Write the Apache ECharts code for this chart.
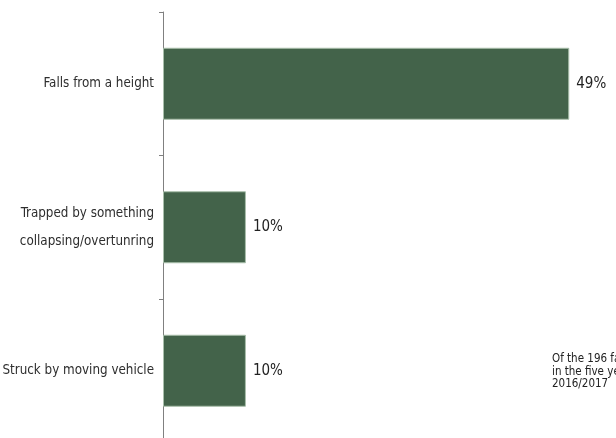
<!DOCTYPE html>
<html>
<head>
<meta charset="utf-8">
<script src="https://cdn.jsdelivr.net/npm/echarts@6/dist/echarts.min.js"></script>
<style>html,body{margin:0;padding:0;background:#fff;}#c{width:616px;height:438px;}</style>
</head>
<body>
<div id="c"></div>
<script>
var categories = ['Falls from a height', 'Trapped by something\ncollapsing/overtunring', 'Struck by moving vehicle'];
var values = [49, 10, 10];
var noteLines = ['Of the 196 fatalities', 'in the five years to', '2016/2017'];

var FONT = '"DejaVu Sans Condensed", "Liberation Sans", sans-serif';
var chart = echarts.init(document.getElementById('c'));
chart.setOption({
  animation: false,
  grid: { left: 163, top: 12, width: 456, height: 430.5, containLabel: false, outerBoundsMode: 'none' },
  xAxis: { type: 'value', min: 0, max: 55, show: false },
  yAxis: {
    type: 'category', data: categories, inverse: true,
    axisLine: { show: true, lineStyle: { color: '#808080', width: 1 } },
    axisTick: { show: true, length: 4, lineStyle: { color: '#808080' } },
    axisLabel: { margin: 9, color: '#2e2e2e', fontFamily: FONT, fontSize: 13.3, lineHeight: 28, align: 'right' },
    splitLine: { show: false }
  },
  series: [{
    type: 'bar', data: values, barWidth: 72,
    itemStyle: { color: '#43634a', borderColor: '#a9bfab', borderWidth: 1 },
    label: { show: true, position: 'right', distance: 7, formatter: '{c}%', color: '#222', fontFamily: FONT, fontSize: 15 }
  }],
  graphic: [{
    type: 'text', left: 552, top: 353,
    style: { text: noteLines.join('\n'), fill: '#222', fontFamily: FONT, fontSize: 11.5, lineHeight: 12.5 }
  }]
});
</script>
</body>
</html>
